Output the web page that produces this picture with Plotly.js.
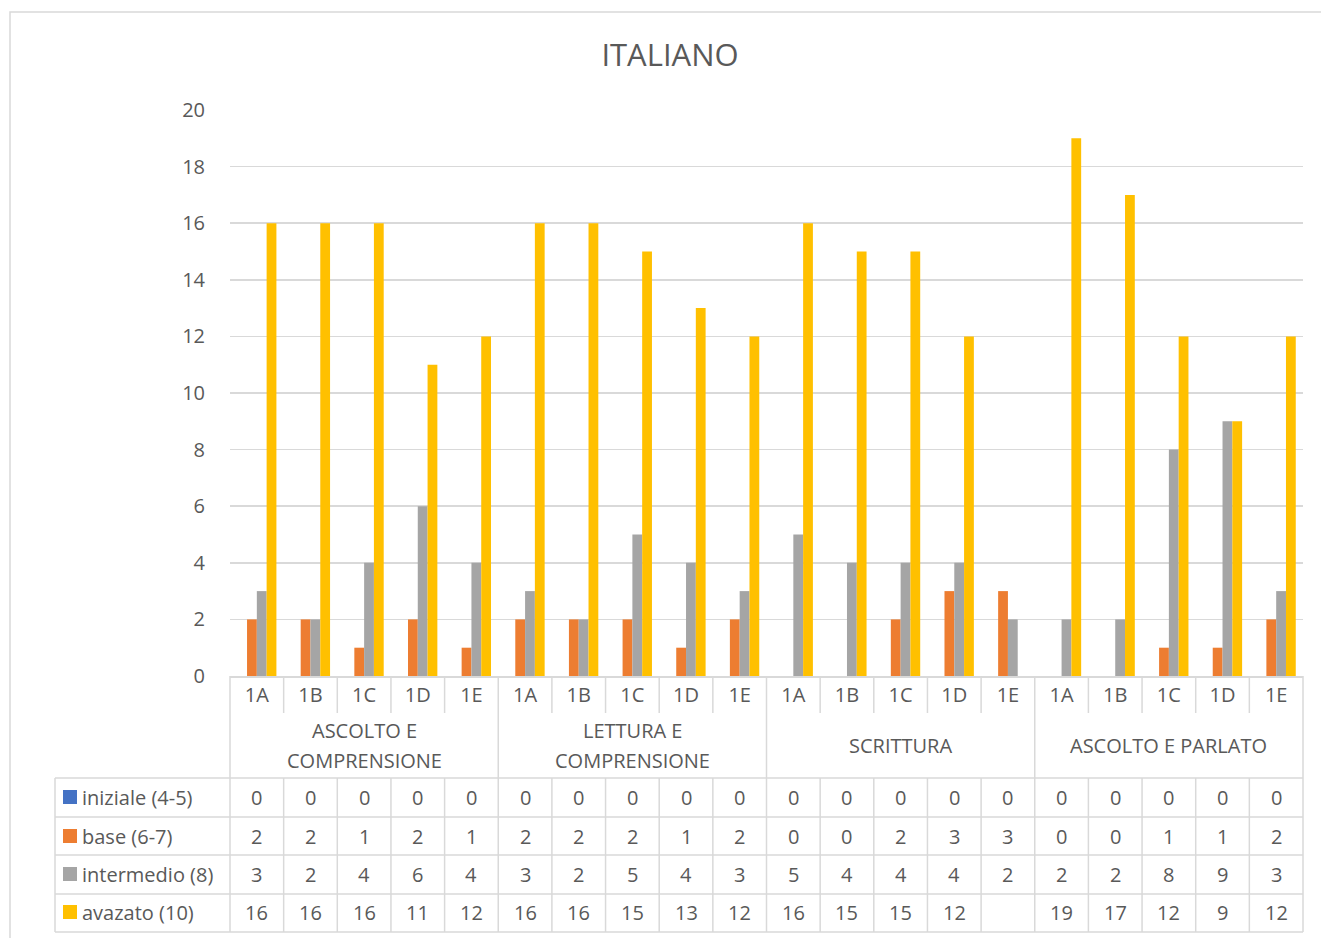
<!DOCTYPE html>
<html><head><meta charset="utf-8">
<script src="https://cdn.plot.ly/plotly-3.0.1.min.js"></script>
<style>html,body{margin:0;padding:0;background:#fff;}#chart{width:1321px;height:938px;}</style>
</head><body><div id="chart"></div>
<script>
// ---- data ----
const groups = ["ASCOLTO E<br>COMPRENSIONE", "LETTURA E<br>COMPRENSIONE", "SCRITTURA", "ASCOLTO E PARLATO"];
const classes = ["1A", "1B", "1C", "1D", "1E"];
const seriesNames = ["iniziale (4-5)", "base (6-7)", "intermedio (8)", "avazato (10)"];
const iniziale = [0,0,0,0,0, 0,0,0,0,0, 0,0,0,0,0, 0,0,0,0,0];
const base = [2,2,1,2,1, 2,2,2,1,2, 0,0,2,3,3, 0,0,1,1,2];
const intermedio = [3,2,4,6,4, 3,2,5,4,3, 5,4,4,4,2, 2,2,8,9,3];
const avazato = [16,16,16,11,12, 16,16,15,13,12, 16,15,15,12,null, 19,17,12,9,12];
const colors = ["#4472C4", "#ED7D31", "#A5A5A5", "#FFC000"];

// ---- layout helpers (pixel geometry) ----
const W = 1321, H = 938;
const L = 230, R = 1303, T = 110, B = 676;
const px = p => (p - L) / (R - L);
const py = p => (B - p) / (B - T);
const FONT = "'Open Sans', Lato, sans-serif";
const TXT = "#595959";
const LINE = "#D9D9D9";
const FS = 20;

const labels = [];
groups.forEach(() => classes.forEach(c => labels.push(c)));
const n = labels.length;
const xs = labels.map((_, i) => i);
const allSeries = [iniziale, base, intermedio, avazato];

const traces = allSeries.map((vals, k) => ({
  type: "bar", x: xs, y: vals, name: seriesNames[k],
  marker: {color: colors[k]}, hoverinfo: "skip"
}));

const shapes = [];
const annotations = [];
const lineStyle = {color: LINE, width: 1.5};
// chart border
shapes.push({type:"rect", xref:"paper", yref:"paper", x0:px(10), x1:px(1345), y0:py(12), y1:py(960), line:{color:LINE, width:1.5}, fillcolor:"rgba(0,0,0,0)"});
// vertical lines
for (let b = 0; b <= n; b++) {
  const x = b / n;
  if (b % classes.length === 0) {
    shapes.push({type:"line", xref:"paper", yref:"paper", x0:x, x1:x, y0:py(676), y1:py(932), line:lineStyle});
  } else {
    shapes.push({type:"line", xref:"paper", yref:"paper", x0:x, x1:x, y0:py(676), y1:py(713), line:lineStyle});
    shapes.push({type:"line", xref:"paper", yref:"paper", x0:x, x1:x, y0:py(778), y1:py(932), line:lineStyle});
  }
}
shapes.push({type:"line", xref:"paper", yref:"paper", x0:px(55), x1:px(55), y0:py(778), y1:py(932), line:lineStyle});
// horizontal lines
[778, 817, 855, 894, 932].forEach(p => {
  shapes.push({type:"line", xref:"paper", yref:"paper", x0:px(55), x1:1, y0:py(p), y1:py(p), line:lineStyle});
});
// group labels (one annotation per line for Excel-like line spacing)
groups.forEach((g, gi) => {
  const lines = g.split("<br>");
  const xc = (gi*classes.length)+(classes.length-1)/2;
  lines.forEach((ln, li) => {
    const yp = 745 + (li - (lines.length-1)/2) * 30;
    annotations.push({xref:"x", yref:"paper", x:xc, y:py(yp),
      text:ln, showarrow:false, xanchor:"center", yanchor:"middle",
      font:{family:FONT, size:FS, color:TXT}});
  });
});
// table rows
const rowCenters = [797, 836, 874, 912];
allSeries.forEach((vals, k) => {
  const yc = py(rowCenters[k]);
  shapes.push({type:"rect", xref:"paper", yref:"paper", x0:px(63), x1:px(77), y0:py(rowCenters[k]+7), y1:py(rowCenters[k]-7), line:{width:0}, fillcolor:colors[k]});
  annotations.push({xref:"paper", yref:"paper", x:px(80), y:yc, text:seriesNames[k], showarrow:false,
    xanchor:"left", yanchor:"middle", font:{family:FONT, size:FS, color:TXT}});
  vals.forEach((v, i) => {
    annotations.push({xref:"x", yref:"paper", x:i, y:yc, text:(v === null ? "" : String(v)), showarrow:false,
      xanchor:"center", yanchor:"middle", font:{family:FONT, size:FS, color:TXT}});
  });
});

const layout = {
  width: W, height: H,
  margin: {l: L, r: W - R, t: T, b: H - B, pad: 0},
  paper_bgcolor: "#fff", plot_bgcolor: "#fff",
  showlegend: false,
  barmode: "group", bargap: 0.27, bargroupgap: 0,
  title: {text: "ITALIANO", font: {family: FONT, size: 31, color: TXT},
    x: 670 / W, xref: "container", xanchor: "center", y: 1 - 55 / H, yref: "container", yanchor: "middle"},
  xaxis: {range: [-0.5, n - 0.5], tickvals: xs, ticktext: labels, showgrid: false, zeroline: false,
    showline: true, linecolor: LINE, linewidth: 1.5, ticks: "", 
    tickfont: {family: FONT, size: FS, color: TXT}, fixedrange: true},
  yaxis: {range: [0, 20], dtick: 2, tick0: 0, showgrid: true, gridcolor: LINE, gridwidth: 1.5, zeroline: false,
    showline: false, ticks: "outside", ticklen: 20, tickcolor: "rgba(0,0,0,0)",
    tickfont: {family: FONT, size: FS, color: TXT}, fixedrange: true},
  shapes: shapes, annotations: annotations
};
Plotly.newPlot("chart", traces, layout, {displayModeBar: false, staticPlot: true});
</script></body></html>
